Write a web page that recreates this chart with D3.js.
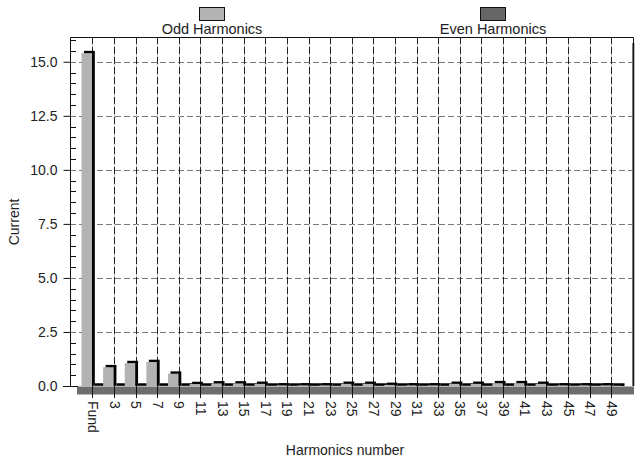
<!DOCTYPE html>
<html>
<head>
<meta charset="utf-8">
<script src="https://cdn.jsdelivr.net/npm/d3@7"></script>
<style>
  body { margin: 0; background: #fff; }
  text { font-family: "Liberation Sans", Arial, sans-serif; fill: #222; }
</style>
</head>
<body>
<div id="chart"></div>
<script>
// harmonic numbers and the values
var oddHarmonics = [1, 3, 5, 7, 9, 11, 13, 15, 17, 19, 21, 23, 25, 27, 29, 31, 33, 35, 37, 39, 41, 43, 45, 47, 49];
var oddLabels = ["Fund", "3", "5", "7", "9", "11", "13", "15", "17", "19", "21", "23", "25", "27", "29", "31", "33", "35", "37", "39", "41", "43", "45", "47", "49"];
var oddValues = [15.4, 0.87, 1.06, 1.11, 0.57, 0.09, 0.12, 0.12, 0.10, 0.03, 0.03, 0.03, 0.10, 0.10, 0.05, 0.03, 0.03, 0.10, 0.10, 0.13, 0.13, 0.10, 0.03, 0.03, 0.03];
var evenHarmonics = [2, 4, 6, 8, 10, 12, 14, 16, 18, 20, 22, 24, 26, 28, 30, 32, 34, 36, 38, 40, 42, 44, 46, 48, 50];
var evenValues = [0.02, 0.02, 0.02, 0.02, 0.02, 0.02, 0.02, 0.02, 0.02, 0.02, 0.02, 0.02, 0.02, 0.02, 0.02, 0.02, 0.02, 0.02, 0.02, 0.02, 0.02, 0.02, 0.02, 0.02, 0.02];
var yTicks = [0, 2.5, 5, 7.5, 10, 12.5, 15];
var yMinorTicks = [0.5, 1, 1.5, 2, 3, 3.5, 4, 4.5, 5.5, 6, 6.5, 7, 8, 8.5, 9, 9.5, 10.5, 11, 11.5, 12, 13, 13.5, 14, 14.5, 15.5, 16];

var W = 635, H = 458;
var plotL = 70, plotT = 37, plotR = 633, plotB = 386;

var svg = d3.select("#chart").append("svg")
  .attr("width", W).attr("height", H);

var bars = [];
oddHarmonics.forEach(function(h, i) { bars.push({h: h, v: oddValues[i], odd: true}); });
evenHarmonics.forEach(function(h, i) { bars.push({h: h, v: evenValues[i], odd: false}); });
bars.sort(function(a, b) { return a.h - b.h; });

var x = d3.scaleBand()
  .domain(bars.map(function(d) { return d.h; }))
  .range([81.5, 622])
  .padding(0);
var bw = x.bandwidth();
var tickX = function(h) { return x(h) + bw; };

var y = d3.scaleLinear().domain([0, 16.1]).range([plotB, plotT + 1]);

// floor band under the bars
svg.append("rect")
  .attr("x", 77).attr("y", plotB + 0.5)
  .attr("width", 634 - 77).attr("height", 8)
  .attr("fill", "#6e6e6e");

// horizontal grid
svg.append("g").selectAll("line")
  .data(yTicks.filter(function(d) { return d > 0; }))
  .join("line")
  .attr("x1", plotL).attr("x2", plotR)
  .attr("y1", function(d) { return Math.round(y(d)) + 0.5; })
  .attr("y2", function(d) { return Math.round(y(d)) + 0.5; })
  .attr("stroke", "#7a7a7a")
  .attr("stroke-dasharray", "6,3");

// vertical grid
var vg = svg.append("g");
vg.selectAll("line.bg")
  .data(oddHarmonics)
  .join("line")
  .attr("class", "bg")
  .attr("x1", function(d) { return Math.round(tickX(d)) + 0.5; })
  .attr("x2", function(d) { return Math.round(tickX(d)) + 0.5; })
  .attr("y1", plotT).attr("y2", plotB)
  .attr("stroke", "#c8c8c8");
vg.selectAll("line.fg")
  .data(oddHarmonics)
  .join("line")
  .attr("class", "fg")
  .attr("x1", function(d) { return Math.round(tickX(d)) + 0.5; })
  .attr("x2", function(d) { return Math.round(tickX(d)) + 0.5; })
  .attr("y1", plotT).attr("y2", plotB)
  .attr("stroke", "#222")
  .attr("stroke-dasharray", "7,3");

// right wall shading
svg.append("rect")
  .attr("x", plotR - 1).attr("y", plotT + 6)
  .attr("width", 2.5).attr("height", plotB - plotT - 6)
  .attr("fill", "#777");

// frame
svg.append("path")
  .attr("d", "M" + (plotL + 0.5) + "," + plotB + "V" + (plotT + 0.5) + "H" + (plotR + 0.5) + "V" + plotB)
  .attr("fill", "none").attr("stroke", "#111");
svg.append("line")
  .attr("x1", 63).attr("x2", 78)
  .attr("y1", plotB + 0.5).attr("y2", plotB + 0.5)
  .attr("stroke", "#111");

// bars: black offset block behind, coloured face in front
svg.append("g").selectAll("rect")
  .data(bars)
  .join("rect")
  .attr("x", function(d) { return x(d.h) + 2.5; })
  .attr("y", function(d) { return y(d.v) - 2.3; })
  .attr("width", bw)
  .attr("height", function(d) { return plotB - y(d.v) + 2.3; })
  .attr("fill", "#000");
svg.append("g").selectAll("rect")
  .data(bars)
  .join("rect")
  .attr("x", function(d) { return x(d.h); })
  .attr("y", function(d) { return y(d.v); })
  .attr("width", bw - 0.3)
  .attr("height", function(d) { return plotB - y(d.v); })
  .attr("fill", function(d) { return d.odd ? "#b3b3b3" : "#666"; });

// y axis
var yAxis = svg.append("g")
  .attr("transform", "translate(" + (plotL + 0.5) + ",0)")
  .call(d3.axisLeft(y).tickValues(yTicks).tickFormat(d3.format(".1f")).tickSize(7).tickPadding(6));
yAxis.select(".domain").remove();
yAxis.selectAll("line").attr("stroke", "#111");
yAxis.selectAll("text").style("font-size", "14px").attr("fill", "#222");

svg.append("g").selectAll("line")
  .data(yMinorTicks)
  .join("line")
  .attr("x1", plotL).attr("x2", plotL + 6)
  .attr("y1", function(d) { return Math.round(y(d)) + 0.5; })
  .attr("y2", function(d) { return Math.round(y(d)) + 0.5; })
  .attr("stroke", "#111");

// x ticks and rotated labels
var xt = svg.append("g");
xt.selectAll("line")
  .data(oddHarmonics)
  .join("line")
  .attr("x1", function(d) { return Math.round(tickX(d)) + 0.5; })
  .attr("x2", function(d) { return Math.round(tickX(d)) + 0.5; })
  .attr("y1", plotB).attr("y2", 398)
  .attr("stroke", "#111");
xt.selectAll("text")
  .data(oddHarmonics)
  .join("text")
  .attr("transform", function(d) { return "translate(" + (tickX(d) + 0.5) + ",401) rotate(90)"; })
  .attr("dy", "0.35em")
  .style("font-size", "14px")
  .text(function(d, i) { return oddLabels[i]; });

// axis titles
svg.append("text")
  .attr("transform", "translate(19,222) rotate(-90)")
  .attr("text-anchor", "middle")
  .style("font-size", "14px")
  .text("Current");
svg.append("text")
  .attr("x", 345).attr("y", 455)
  .attr("text-anchor", "middle")
  .style("font-size", "14px")
  .text("Harmonics number");

// legend
var legend = [
  {label: "Odd Harmonics", color: "#b3b3b3", cx: 212},
  {label: "Even Harmonics", color: "#666", cx: 493}
];
var lg = svg.append("g").selectAll("g").data(legend).join("g");
lg.append("rect")
  .attr("x", function(d) { return d.cx - 12.5; }).attr("y", 7.5)
  .attr("width", 25).attr("height", 13)
  .attr("fill", function(d) { return d.color; })
  .attr("stroke", "#111");
lg.append("text")
  .attr("x", function(d) { return d.cx; }).attr("y", 34)
  .attr("text-anchor", "middle")
  .style("font-size", "14.5px")
  .text(function(d) { return d.label; });
</script>
</body>
</html>
